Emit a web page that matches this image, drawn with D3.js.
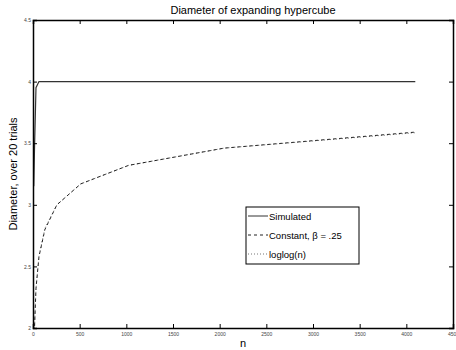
<!DOCTYPE html>
<html>
<head>
<meta charset="utf-8">
<script src="https://cdn.jsdelivr.net/npm/d3@7"></script>
<style>
  body { margin: 0; background: #fff; }
  svg { font-family: "Liberation Sans", Arial, sans-serif; }
</style>
</head>
<body>
<svg id="chart" width="456" height="350"></svg>
<script>
// values
const nValues = [8, 16, 32, 64, 128, 256, 512, 1024, 2048, 4096];
const simulated = [3.15, 3.45, 3.95, 4, 4, 4, 4, 4, 4, 4];
const constant = [1.58, 2.0, 2.32, 2.58, 2.8, 3.0, 3.17, 3.32, 3.46, 3.59];
const loglogN = [1.58, 2.0, 2.32, 2.585, 2.81, 3.0, 3.17, 3.32, 3.46, 3.585];
const xTicks = [0, 500, 1000, 1500, 2000, 2500, 3000, 3500, 4000, 4500];
const yTicks = [2, 2.5, 3, 3.5, 4, 4.5];

const svg = d3.select('#chart');
const plotLeft = 33, plotRight = 453, plotTop = 20, plotBottom = 328;

const x = d3.scaleLinear().domain([0, 4500]).range([plotLeft, plotRight]);
const y = d3.scaleLinear().domain([2, 4.5]).range([plotBottom, plotTop]);

svg.append('clipPath').attr('id', 'clip')
    .append('rect')
    .attr('x', plotLeft).attr('y', plotTop)
    .attr('width', plotRight - plotLeft).attr('height', plotBottom - plotTop);

const line = d3.line()
    .x(d => x(d[0]))
    .y(d => y(d[1]));

const plot = svg.append('g').attr('clip-path', 'url(#clip)');

// loglog(n), dotted
plot.append('path')
    .datum(nValues.map((n, i) => [n, loglogN[i]]))
    .attr('d', line)
    .attr('fill', 'none')
    .attr('stroke', '#777')
    .attr('stroke-width', 1)
    .attr('stroke-dasharray', '1,2');

// constant, dashed
plot.append('path')
    .datum(nValues.map((n, i) => [n, constant[i]]))
    .attr('d', line)
    .attr('fill', 'none')
    .attr('stroke', '#222')
    .attr('stroke-width', 1)
    .attr('stroke-dasharray', '3,3');

// simulated, solid
plot.append('path')
    .datum(nValues.map((n, i) => [n, simulated[i]]))
    .attr('d', line)
    .attr('fill', 'none')
    .attr('stroke', '#333')
    .attr('stroke-width', 1.2);

// axes box with inward ticks on all four sides
const tickLen = 4;
svg.append('g')
    .attr('transform', `translate(0,${plotBottom})`)
    .call(d3.axisBottom(x).tickValues(xTicks).tickSize(-tickLen).tickPadding(4).tickFormat(d3.format('d')))
    .call(g => g.select('.domain').attr('stroke-width', 1.5));
svg.append('g')
    .attr('transform', `translate(0,${plotTop})`)
    .call(d3.axisTop(x).tickValues(xTicks).tickSize(-tickLen).tickFormat(''))
    .call(g => g.select('.domain').attr('stroke-width', 1.5));
svg.append('g')
    .attr('transform', `translate(${plotLeft},0)`)
    .call(d3.axisLeft(y).tickValues(yTicks).tickSize(-tickLen).tickPadding(2).tickFormat(d3.format('')))
    .call(g => g.select('.domain').attr('stroke-width', 1.5));
svg.append('g')
    .attr('transform', `translate(${plotRight},0)`)
    .call(d3.axisRight(y).tickValues(yTicks).tickSize(-tickLen).tickFormat(''))
    .call(g => g.select('.domain').attr('stroke-width', 1.5));

svg.selectAll('.tick text')
    .attr('font-size', 5)
    .attr('fill', '#444')
    .attr('font-family', '"Liberation Sans", Arial, sans-serif');
svg.selectAll('.domain').attr('stroke', '#000');

// title and axis labels
svg.append('text')
    .attr('x', (plotLeft + plotRight) / 2 + 10).attr('y', 14)
    .attr('text-anchor', 'middle')
    .attr('font-size', 11)
    .text('Diameter of expanding hypercube');
svg.append('text')
    .attr('x', (plotLeft + plotRight) / 2).attr('y', 347)
    .attr('text-anchor', 'middle')
    .attr('font-size', 11)
    .text('n');
svg.append('text')
    .attr('transform', `translate(17,${(plotTop + plotBottom) / 2}) rotate(-90)`)
    .attr('text-anchor', 'middle')
    .attr('font-size', 11)
    .text('Diameter, over 20 trials');

// legend
const lg = svg.append('g').attr('transform', 'translate(246,207)');
lg.append('rect')
    .attr('width', 113).attr('height', 57)
    .attr('fill', '#fff').attr('stroke', '#000').attr('stroke-width', 1);
const items = [
    { label: 'Simulated', dash: null, color: '#333' },
    { label: 'Constant, \u03b2 = .25', dash: '3,3', color: '#222' },
    { label: 'loglog(n)', dash: '1,2', color: '#777' }
];
items.forEach((it, i) => {
    const yy = 9 + i * 19;
    lg.append('line')
        .attr('x1', 2).attr('x2', 22).attr('y1', yy).attr('y2', yy)
        .attr('stroke', it.color).attr('stroke-width', 1)
        .attr('stroke-dasharray', it.dash);
    lg.append('text')
        .attr('x', 23).attr('y', yy + 3.5)
        .attr('font-size', 9.5)
        .text(it.label);
});
</script>
</body>
</html>
